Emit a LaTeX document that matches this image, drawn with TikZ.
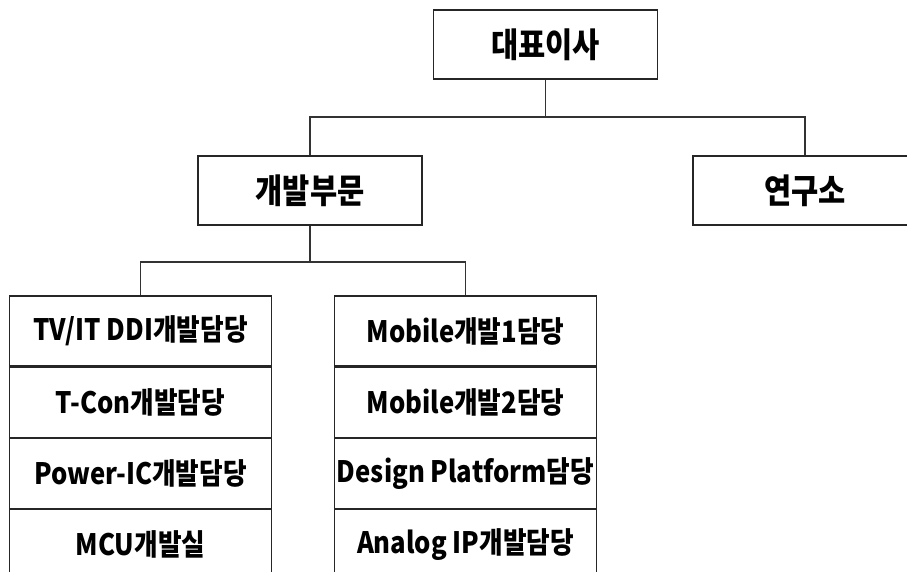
\documentclass[tikz,border=0pt]{standalone}
\usepackage{fontspec}
\setmainfont{Noto Sans CJK KR}[FakeStretch=0.87]
\usepackage{tikz}
\usetikzlibrary{positioning}

\tikzset{
  head/.style={draw=black!85,line width=1.1pt,fill=white,minimum width=224pt,minimum height=69pt,inner sep=0pt,font=\fontsize{34}{36}\selectfont\bfseries},
  unit/.style={draw=black!85,line width=1.1pt,minimum width=262pt,minimum height=70pt,inner sep=0pt,font=\fontsize{29.5}{31}\selectfont\bfseries},
  conn/.style={draw=black!80,line width=1.4pt}
}

\begin{document}
\begin{tikzpicture}[x=1pt,y=-1pt]
    \path[use as bounding box,clip](0,0)rectangle(907,572);
    % top levels
    \node[head](ceo) at (545.5,44.5){대표이사};
    \node[head](dev) at (310,190.5){개발부문};
    \node[head](lab) at (805,190.5){연구소};
    \coordinate(busA) at (545.5,117);
    \coordinate(busB) at (310,262);
    % two columns of teams
    \node[unit](tv) at (140.5,331){TV/IT DDI개발담당};
    \node[unit,below=0pt of tv](tcon){T-Con개발담당};
    \node[unit,below=0pt of tcon](power){Power-IC개발담당};
    \node[unit,below=0pt of power](mcu){MCU개발실};
    \node[unit](mob1) at (465.5,331){Mobile개발1담당};
    \node[unit,below=0pt of mob1](mob2){Mobile개발2담당};
    \node[unit,below=0pt of mob2](design){Design Platform담당};
    \node[unit,below=0pt of design](analog){Analog IP개발담당};
    % lines
    \draw[conn](ceo.south)--(busA);
    \draw[conn](dev.north)|-(busA)-|(lab.north);
    \draw[conn](dev.south)--(busB);
    \draw[conn](tv.north)|-(busB)-|(mob1.north);
\end{tikzpicture}
\end{document}
